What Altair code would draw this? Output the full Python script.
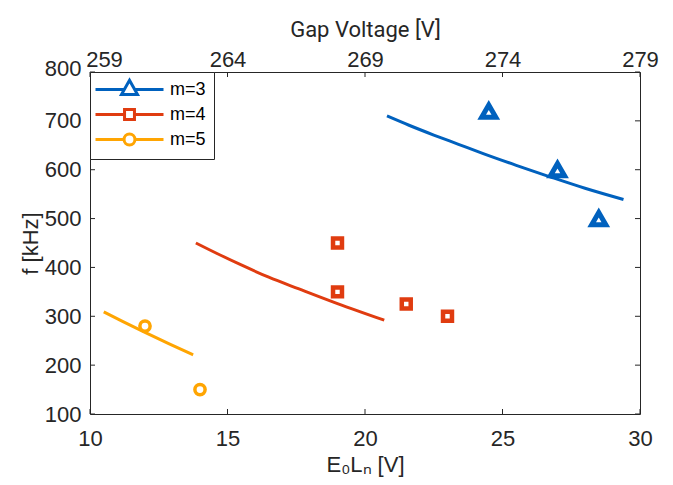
import altair as alt
import pandas as pd

# ---------------- data ----------------
series = ["m=3", "m=4", "m=5"]
colors = ["#0061BE", "#E03C10", "#FFA502"]
marker_shapes = ["triangle-up", "square", "circle"]
marker_sizes = [200, 80, 105]
marker_strokes = [5.0, 4.5, 3.5]

# measured points
m3_x = [24.5, 27.0, 28.5]
m3_f = [720, 600, 500]
m4_x = [19.0, 19.0, 21.5, 23.0]
m4_f = [450, 350, 325, 300]
m5_x = [12.0, 14.0]
m5_f = [280, 150]

# model curves
m3_fit_x = [20.8, 21.6, 22.5, 23.4, 24.3, 25.5, 26.7, 28.0, 29.4]
m3_fit_f = [710, 691, 671, 652, 633, 609, 586, 562, 539]
m4_fit_x = [13.85, 14.6, 15.5, 16.5, 17.6, 19.0, 20.7]
m4_fit_f = [450, 429, 405, 380, 356, 326, 292]
m5_fit_x = [10.5, 11.2, 12.0, 12.9, 13.75]
m5_fit_f = [309, 289, 267, 243, 221]

x_ticks = [10, 15, 20, 25, 30]
y_ticks = [100, 200, 300, 400, 500, 600, 700, 800]
top_ticks = [259, 264, 269, 274, 279]

# legend symbols: line with marker (unit = 8 px, line spans 68 px)
legend_paths = [
    "M-4.25,0H-0.75M0.75,0H4.25M0,-1.15L1,0.62L-1,0.62Z",
    "M-4.25,0H-0.62M0.62,0H4.25M-0.62,-0.62H0.62V0.62H-0.62Z",
    "M-4.25,0H-0.68M0.68,0H4.25M0.68,0A0.68,0.68,0,1,1,-0.68,0A0.68,0.68,0,1,1,0.68,0Z",
]

# ---------------- styling ----------------
W, H = 550, 342
INK = "#262626"
FONT = "Liberation Sans"
TFONT = "Roboto"
TL = 5

xs = alt.Scale(domain=[10, 30], nice=False, zero=False)
ys = alt.Scale(domain=[100, 800], nice=False, zero=False)
gs = alt.Scale(domain=[259, 279], nice=False, zero=False)

common = dict(ticks=False, tickSize=0, domain=False, grid=False, labelOverlap=False,
              labelFont=FONT, labelFontSize=22, labelColor=INK,
              titleFontSize=22, titleFontWeight="normal", titleColor=INK)

x_axis = alt.Axis(values=x_ticks, orient="bottom", title="E₀Lₙ [V]", titleFont=FONT,
                  labelFlush=False, labelPadding=14, titlePadding=5, **common)
y_axis = alt.Axis(values=y_ticks, orient="left", title="f [kHz]", titleFont=FONT,
                  labelPadding=9, titlePadding=2,
                  labelOffset={"condition": {"test": "datum.value == 800", "value": -4}, "value": 0},
                  **common)
top_axis = alt.Axis(values=top_ticks, orient="top", title="Gap Voltage [V]", titleFont=TFONT,
                    labelFlush=False, labelPadding=1, titlePadding=7, format="d",
                    labelOffset={"condition": {"test": "datum.value == 259", "value": 14}, "value": 0},
                    **common)

leg = alt.Legend(title=None, orient="top-left", offset=0, padding=8,
                 strokeColor=INK, fillColor="white", cornerRadius=0,
                 labelFont=FONT, labelFontSize=18, labelColor="black",
                 symbolSize=256, symbolStrokeWidth=3, symbolOpacity=1,
                 symbolOffset=22, labelOffset=31,
                 symbolFillColor="transparent", rowPadding=2)

pts_x = [m3_x, m4_x, m5_x]
pts_f = [m3_f, m4_f, m5_f]
fit_x = [m3_fit_x, m4_fit_x, m5_fit_x]
fit_f = [m3_fit_f, m4_fit_f, m5_fit_f]

all_pts = pd.concat([pd.DataFrame({"x": xv, "f": fv, "m": s})
                     for s, xv, fv in zip(series, pts_x, pts_f)], ignore_index=True)

X = lambda field: alt.X(field, scale=xs, axis=x_axis)
Y = lambda field: alt.Y(field, scale=ys, axis=y_axis)

legend_layer = alt.Chart(all_pts).mark_point(filled=False, opacity=0, strokeWidth=3).encode(
    x=X("x:Q"),
    y=Y("f:Q"),
    color=alt.Color("m:N", scale=alt.Scale(domain=series, range=colors), legend=leg),
    shape=alt.Shape("m:N", scale=alt.Scale(domain=series, range=legend_paths), legend=leg),
)

fit_layers = []
point_layers = []
for s, col, shp, sz, sw, xv, fv, fxv, ffv in zip(series, colors, marker_shapes, marker_sizes,
                                                   marker_strokes, pts_x, pts_f, fit_x, fit_f):
    fit_layers.append(
        alt.Chart(pd.DataFrame({"x": fxv, "f": ffv})).mark_line(
            color=col, strokeWidth=3, interpolate="monotone").encode(x=X("x:Q"), y=Y("f:Q"))
    )
    point_layers.append(
        alt.Chart(pd.DataFrame({"x": xv, "f": fv})).mark_point(
            shape=shp, size=sz, strokeWidth=sw, color=col, filled=False, opacity=1
        ).encode(x=X("x:Q"), y=Y("f:Q"))
    )

xt = pd.DataFrame({"v": x_ticks})
yt = pd.DataFrame({"v": y_ticks})
gt = pd.DataFrame({"g": top_ticks})

bottom_ticks = alt.Chart(xt).mark_rule(color=INK, strokeWidth=1).encode(
    x=X("v:Q"), y=alt.value(H), y2=alt.value(H - TL))
left_ticks = alt.Chart(yt).mark_rule(color=INK, strokeWidth=1).encode(
    y=Y("v:Q"), x=alt.value(0), x2=alt.value(TL))
right_ticks = alt.Chart(yt).mark_rule(color=INK, strokeWidth=1).encode(
    y=Y("v:Q"), x=alt.value(W), x2=alt.value(W - TL))
top_tick_layer = alt.Chart(gt).mark_rule(color=INK, strokeWidth=1).encode(
    x=alt.X("g:Q", scale=gs, axis=top_axis), y=alt.value(0), y2=alt.value(TL))

inner = alt.layer(legend_layer, *fit_layers, *point_layers, bottom_ticks, left_ticks, right_ticks)

chart = alt.layer(inner, top_tick_layer).resolve_scale(x="independent").properties(
    width=W, height=H,
    autosize=alt.AutoSizeParams(type="none"),
    padding={"left": 82, "top": 64, "right": 25, "bottom": 70},
    background="white",
).configure_view(stroke=INK, strokeWidth=1)

chart.save("out.html", embed_options={"renderer": "svg", "actions": False})
